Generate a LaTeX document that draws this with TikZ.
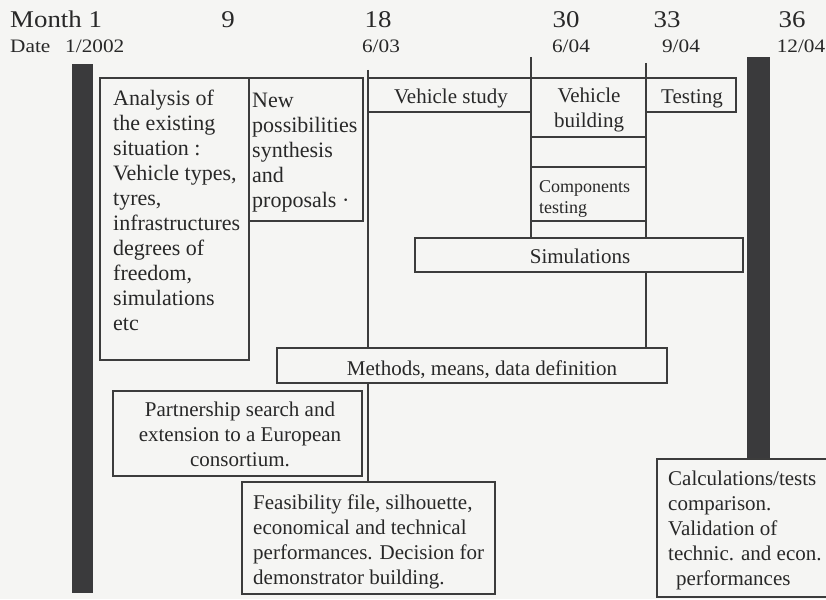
\documentclass[tikz,border=0pt]{standalone}
\usepackage{fontspec}
\setmainfont{Liberation Serif}
\newfontfamily\hdfont{Liberation Serif}[FakeStretch=1.12]
\definecolor{ink}{RGB}{40,40,40}
\definecolor{linec}{RGB}{60,60,60}
\definecolor{paper}{RGB}{245,245,243}
\definecolor{barc}{RGB}{58,58,60}
\begin{document}
\begin{tikzpicture}[x=1pt,y=-1pt,
  frame/.style={draw=linec, fill=paper, line width=1.8pt, inner sep=0pt, outer sep=0pt, anchor=north west, rectangle},
  bar/.style={fill=barc, draw=none, inner sep=0pt, outer sep=0pt, anchor=north west, rectangle},
  txt/.style={inner sep=0pt, text=ink, font=\fontsize{21}{25}\selectfont},
  ttxt/.style={txt, align=left, anchor=north west},
  ctxt/.style={txt, align=center, anchor=north},
  one/.style={txt, anchor=base},
  mile/.style={draw=linec, line width=1.8pt},
  head/.style={inner sep=0pt, text=ink, font=\hdfont\fontsize{24}{28}\selectfont, anchor=base},
  datef/.style={inner sep=0pt, text=ink, font=\hdfont\fontsize{19}{22}\selectfont, anchor=base}
]
\fill[paper] (0,0) rectangle (826,599);
\useasboundingbox (0,0) rectangle (826,599);
\clip (0,0) rectangle (826,599);

% header
\node[head, anchor=base west] (hmonth) at (10,28) {Month 1};
\node[head] (h9) at (228,28) {9};
\node[head] (h18) at (378,28) {18};
\node[head] (h30) at (566,28) {30};
\node[head] (h33) at (667,28) {33};
\node[head] (h36) at (792,28) {36};
\node[datef, anchor=base west] (hdate) at (10,53) {Date};
\node[datef, anchor=base west] (d1) at (65,53) {1/2002};
\node[datef] (d18) at (381,53) {6/03};
\node[datef] (d30) at (571,53) {6/04};
\node[datef] (d33) at (681,53) {9/04};
\node[datef] (d36) at (801,53) {12/04};

% bars
\node[bar, minimum width=21pt, minimum height=529pt] (lbar) at (72,64) {};
\node[bar, minimum width=23pt, minimum height=402pt] (rbar) at (747,57) {};

% milestone lines (drawn before boxes so boxes interrupt them)
\coordinate (m18) at (368,70);
\coordinate (m30) at (531,57);
\coordinate (m33) at (646,63);
\coordinate (m18e) at (368,482);
\coordinate (m30e) at (531,238);
\coordinate (m33e) at (646,348);
\draw[mile] (m18) -- (m18e);
\draw[mile] (m30) -- (m30e);
\draw[mile] (m33) -- (m33e);

% boxes
\node[frame, minimum width=149pt, minimum height=282pt] (ana) at (100,78) {};
\node[frame, minimum width=114pt, minimum height=143pt] (newp) at (249,78) {};
\node[frame, minimum width=163pt, minimum height=34pt] (vstudy) at (368,78) {};
\node[frame, minimum width=115pt, minimum height=59pt] (vbuild) at (531,78) {};
\node[frame, minimum width=115pt, minimum height=30pt] (vgap) at (531,137) {};
\node[frame, minimum width=115pt, minimum height=54pt] (comp) at (531,167) {};
\node[frame, minimum width=90pt, minimum height=34pt] (test) at (646,78) {};
\node[frame, minimum width=328pt, minimum height=34pt] (sim) at (415,238) {};
\node[frame, minimum width=390pt, minimum height=35pt] (meth) at (277,348) {};
\node[frame, minimum width=249pt, minimum height=85pt] (part) at (113,391) {};
\node[frame, line width=2.6pt, minimum width=253pt, minimum height=112pt] (feas) at (242,482) {};
\node[frame, line width=2.4pt, minimum width=190pt, minimum height=138pt] (calc) at (657,459) {};

% texts
\node[ttxt, font=\fontsize{22}{25}\selectfont] (anaT) at (113,90) {Analysis of\\the existing\\situation :\\Vehicle types,\\tyres,\\infrastructures\\degrees of\\freedom,\\simulations\\etc};
\node[ttxt, font=\fontsize{22}{25}\selectfont] (newT) at (252,93) {New\\possibilities\\synthesis\\and\\proposals ·};
\node[one] (vstudyT) at (451,103) {Vehicle study};
\node[ctxt] (vbuildT) at (589,88) {Vehicle\\building};
\node[ttxt, font=\fontsize{18}{21}\selectfont] (compT) at (539,180) {Components\\testing};
\node[one] (testT) at (692,103) {Testing};
\node[one] (simT) at (580,263) {Simulations};
\node[one] (methT) at (482,375) {Methods, means, data definition};
\node[ctxt] (partT) at (240,402) {Partnership search and\\extension to a European\\consortium.};
\node[ttxt] (feasT) at (253,495) {Feasibility file, silhouette,\\economical and technical\\performances. Decision for\\demonstrator building.};
\node[ttxt] (calcT) at (668,471) {Calculations/tests\\comparison.\\Validation of\\technic. and econ.\\\hspace*{8pt}performances};
\end{tikzpicture}
\end{document}
